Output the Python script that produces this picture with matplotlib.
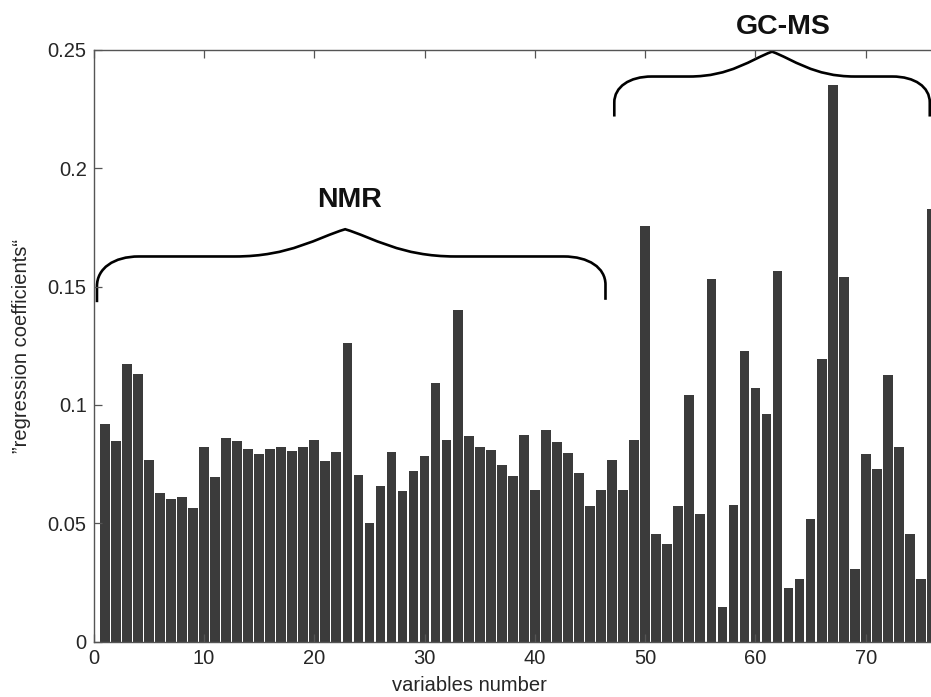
import matplotlib
matplotlib.use("Agg")
import matplotlib.pyplot as plt
from matplotlib.path import Path
from matplotlib.patches import PathPatch
import numpy as np

plt.rcParams['font.family'] = ['Liberation Sans', 'DejaVu Sans']

variables = list(range(1, 77))
coefficients = [0.0918, 0.0848, 0.1175, 0.1131, 0.0768, 0.0627, 0.0603, 0.0611, 0.0566, 0.0821,
                0.0694, 0.0861, 0.0849, 0.0813, 0.0794, 0.0814, 0.0824, 0.0804, 0.0821, 0.0853,
                0.0763, 0.0803, 0.1263, 0.0703, 0.0500, 0.0659, 0.0801, 0.0635, 0.0721, 0.0786,
                0.1093, 0.0852, 0.1401, 0.0869, 0.0821, 0.0811, 0.0745, 0.0701, 0.0872, 0.0640,
                0.0893, 0.0844, 0.0797, 0.0714, 0.0572, 0.0642, 0.0766, 0.0640, 0.0851, 0.1756,
                0.0454, 0.0413, 0.0572, 0.1042, 0.0538, 0.1531, 0.0147, 0.0578, 0.1228, 0.1071,
                0.0962, 0.1565, 0.0227, 0.0265, 0.0517, 0.1194, 0.2353, 0.1542, 0.0308, 0.0793,
                0.0730, 0.1127, 0.0823, 0.0455, 0.0265, 0.1826]
xticks = [0, 10, 20, 30, 40, 50, 60, 70]
yticks = [0, 0.05, 0.1, 0.15, 0.2, 0.25]
ytick_labels = ['0', '0.05', '0.1', '0.15', '0.2', '0.25']
group_labels = ['NMR', 'GC-MS']

fig = plt.figure(figsize=(9.31, 6.97), dpi=100)
ax = fig.add_axes([0.1006, 0.0793, 0.9123, 0.8493])

ax.bar(variables, coefficients, width=0.88, color='#3b3b3b', edgecolor='none')
ax.set_xlim(0, 77)
ax.set_ylim(0, 0.25)
ax.set_xticks(xticks)
ax.set_xticklabels([str(t) for t in xticks])
ax.set_yticks(yticks)
ax.set_yticklabels(ytick_labels)

spine_col = '#555555'
for sp in ax.spines.values():
    sp.set_color(spine_col)
    sp.set_linewidth(1.0)
ax.tick_params(direction='in', length=5.5, width=0.9, color=spine_col,
               labelsize=14.5, labelcolor='#262626', top=True, right=True, pad=5)

ax.set_xlabel('variables number', fontsize=14.5, color='#262626')
ax.xaxis.label.set_va('center')
ax.xaxis.set_label_coords(0.443, -0.0731)
ax.set_ylabel('\u201dregression coefficients\u201c', fontsize=14.5, color='#262626')
ax.yaxis.label.set_va('center')
ax.yaxis.set_label_coords(-0.0844, 0.5)


def brace(ax, x0, x1, xm, yb0, yb1, yf, yc, r, s):
    def curl_left(x, yb):
        ys = yb + 0.35 * (yf - yb)
        return [((x, yb), Path.MOVETO), ((x, ys), Path.LINETO),
                ((x, ys + 0.6 * (yf - ys)), Path.CURVE4),
                ((x + 0.4 * r, yf), Path.CURVE4),
                ((x + r, yf), Path.CURVE4)]
    verts = curl_left(x0, yb0)
    verts += [((xm - s, yf), Path.LINETO),
              ((xm - 0.5 * s, yf), Path.CURVE4),
              ((xm - 0.25 * s, yc - 0.3 * (yc - yf)), Path.CURVE4),
              ((xm, yc), Path.CURVE4),
              ((xm + 0.25 * s, yc - 0.3 * (yc - yf)), Path.CURVE4),
              ((xm + 0.5 * s, yf), Path.CURVE4),
              ((xm + s, yf), Path.CURVE4),
              ((x1 - r, yf), Path.LINETO)]
    ys1 = yb1 + 0.35 * (yf - yb1)
    verts += [((x1 - 0.4 * r, yf), Path.CURVE4),
              ((x1, ys1 + 0.6 * (yf - ys1)), Path.CURVE4),
              ((x1, ys1), Path.CURVE4),
              ((x1, yb1), Path.LINETO)]
    pts, codes = zip(*verts)
    patch = PathPatch(Path(pts, codes), facecolor='none', edgecolor='black',
                      lw=1.9, clip_on=False, capstyle='butt', joinstyle='miter')
    ax.add_patch(patch)


brace(ax, 0.3, 46.4, 22.8, 0.1434, 0.1444, 0.1627, 0.1742, 3.8, 10.0)
brace(ax, 47.2, 75.8, 61.5, 0.2218, 0.2218, 0.2387, 0.2492, 3.4, 7.5)

ax.text(23.2, 0.1866, group_labels[0], fontsize=20.5, fontweight='bold',
        ha='center', va='center', color='#111111')
ax.text(62.5, 0.2597, group_labels[1], fontsize=20.5, fontweight='bold',
        ha='center', va='center', color='#111111', clip_on=False)

fig.savefig('out.png', dpi=100)
